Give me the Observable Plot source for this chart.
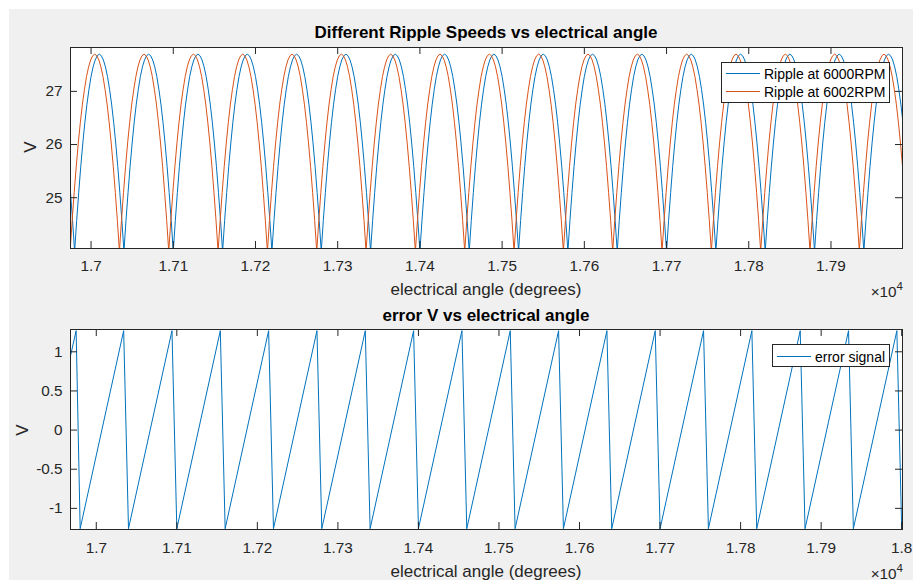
<!DOCTYPE html>
<html><head><meta charset="utf-8">
<script src="https://cdn.jsdelivr.net/npm/d3@7"></script>
<script src="https://cdn.jsdelivr.net/npm/@observablehq/plot@0.6"></script>
<style>
body{margin:0;background:#fff;font-family:"Liberation Sans",Arial,Helvetica,sans-serif;}
#fig{position:relative;width:913px;height:580px;overflow:hidden;background:#fff}
#bg{position:absolute;left:9px;top:9px;width:904px;height:571px;background:#f0f0f0}
.c{position:absolute;line-height:1;white-space:nowrap;transform:translate(-50%,-50%)}
.title{font-weight:bold;font-size:17px;color:#000}
.xlabel{font-size:17px;color:#262626}
.ylabel{font-size:17px;color:#262626;transform:translate(-50%,-50%) rotate(-90deg)}
.exp{position:absolute;right:10px;font-size:15.3px;color:#262626;line-height:1;white-space:nowrap}
.exp span{font-size:11.5px;position:relative;top:-6.6px}
.legend{position:absolute;background:#fff;border:1px solid #262626;box-sizing:border-box;font-size:14px;color:#000}
.legend .sw{position:absolute;left:4px;width:34px;height:1px}
.legend .lt{position:absolute;left:42px;line-height:1;transform:translateY(-50%);white-space:nowrap}
</style>
</head><body>
<div id="fig"><div id="bg"></div></div>
<script>
// ---------- data ----------
const seriesNames = ["Ripple at 6000RPM", "Ripple at 6002RPM"];
const errorName = "error signal";

// x ticks (electrical angle, degrees) and their labels (x 10^4)
const xTicksTop = [17000, 17100, 17200, 17300, 17400, 17500, 17600, 17700, 17800, 17900];
const xTickLabelsTop = ["1.7", "1.71", "1.72", "1.73", "1.74", "1.75", "1.76", "1.77", "1.78", "1.79"];
const xTicksBottom = [17000, 17100, 17200, 17300, 17400, 17500, 17600, 17700, 17800, 17900, 18000];
const xTickLabelsBottom = ["1.7", "1.71", "1.72", "1.73", "1.74", "1.75", "1.76", "1.77", "1.78", "1.79", "1.8"];
const yTicksTop = [25, 26, 27];
const yTickLabelsTop = ["25", "26", "27"];
const yTicksBottom = [-1, -0.5, 0, 0.5, 1];
const yTickLabelsBottom = ["-1", "-0.5", "0", "0.5", "1"];

// axis extents
const xDomainTop = [16975, 17987];
const yDomainTop = [24.045, 27.825];
const xDomainBottom = [16968, 18001];
const yDomainBottom = [-1.27, 1.285];

// one ripple hump: offset from the hump's peak (deg) and voltage
const rippleHalfOffset = [0, 2.5, 5, 7.5, 10, 12.5, 15, 17.5, 20, 22.5, 25, 27.5, 30];
const rippleHalfV = [27.70, 27.67, 27.59, 27.46, 27.28, 27.04, 26.76, 26.42, 26.03, 25.59, 25.10, 24.57, 23.99];

// peak positions of each hump (deg)
const peaks6000 = [16950, 17010, 17070, 17130, 17190, 17250, 17310, 17370, 17430, 17490, 17550, 17610, 17670, 17730, 17790, 17850, 17910, 17970];
const peaks6002 = [16944.5, 17004.5, 17064.5, 17124.5, 17184.5, 17244.5, 17304.5, 17364.5, 17424.5, 17484.5, 17544.5, 17604.5, 17664.5, 17724.5, 17784.5, 17844.5, 17904.5, 17964.5];

// error signal vertices (deg, V)
const errorAngle = [16920, 16975, 16980, 17034, 17040, 17094, 17100, 17154, 17160, 17214, 17220, 17274, 17280, 17334, 17340, 17394, 17400, 17454, 17460, 17514, 17520, 17574, 17580, 17634, 17640, 17694, 17700, 17754, 17760, 17814, 17820, 17874, 17880, 17934, 17940, 17994, 18000, 18054];
const errorV = [-1.26, 1.27, -1.26, 1.27, -1.26, 1.27, -1.26, 1.27, -1.26, 1.27, -1.26, 1.27, -1.26, 1.27, -1.26, 1.27, -1.26, 1.27, -1.26, 1.27, -1.26, 1.27, -1.26, 1.27, -1.26, 1.27, -1.26, 1.27, -1.26, 1.27, -1.26, 1.27, -1.26, 1.27, -1.26, 1.27, -1.26, 1.27];

const colors = ["#0072BD", "#D95319"];
// ---------------------------------------------------

function buildRipple(peaks) {
  const out = [];
  for (const p of peaks) {
    for (let i = rippleHalfOffset.length - 1; i > 0; i--) out.push({x: p - rippleHalfOffset[i], y: rippleHalfV[i]});
    for (let i = 0; i < rippleHalfOffset.length; i++) out.push({x: p + rippleHalfOffset[i], y: rippleHalfV[i]});
  }
  return out;
}
const ripple6000 = buildRipple(peaks6000);
const ripple6002 = buildRipple(peaks6002);
const errorData = errorAngle.map((a, i) => ({x: a, y: errorV[i]}));

const FONT = '"Liberation Sans", Arial, Helvetica, sans-serif';
const AX = "#262626";
const W = 913, ML = 70, MR = 11, TICK = 7;

function panel({height, marginTop, marginBottom, xDomain, yDomain, xTicks, xLabels, yTicks, yLabels, lines, padX}) {
  const fh = height - marginTop - marginBottom, fw = W - ML - MR;
  const xMap = new Map(xTicks.map((t, i) => [t, xLabels[i]]));
  const yMap = new Map(yTicks.map((t, i) => [t, yLabels[i]]));
  return Plot.plot({
    width: W, height, marginLeft: ML, marginRight: MR, marginTop, marginBottom,
    style: {background: "transparent", fontFamily: FONT, fontSize: "15.3px", color: AX},
    x: {domain: xDomain}, y: {domain: yDomain},
    marks: [
      Plot.frame({fill: "white"}),
      ...lines.map(([data, color]) => Plot.line(data, {x: "x", y: "y", stroke: color, strokeWidth: 1, clip: true})),
      Plot.ruleX(xTicks, {stroke: AX, insetTop: fh - TICK}),
      Plot.ruleX(xTicks, {stroke: AX, insetBottom: fh - TICK}),
      Plot.ruleY(yTicks, {stroke: AX, insetRight: fw - TICK}),
      Plot.ruleY(yTicks, {stroke: AX, insetLeft: fw - TICK}),
      Plot.axisX({ticks: xTicks, tickSize: 0, tickPadding: padX, tickFormat: d => xMap.get(d), label: null, fontSize: 15.3, fill: AX}),
      Plot.axisY({ticks: yTicks, tickSize: 0, tickPadding: 8, tickFormat: d => yMap.get(d), label: null, fontSize: 15.3, fill: AX}),
      Plot.frame({stroke: AX})
    ]
  });
}

const fig = document.getElementById("fig");

const topChart = panel({height: 300, marginTop: 47, marginBottom: 52, xDomain: xDomainTop, yDomain: yDomainTop,
  xTicks: xTicksTop, xLabels: xTickLabelsTop, yTicks: yTicksTop, yLabels: yTickLabelsTop,
  lines: [[ripple6000, colors[0]], [ripple6002, colors[1]]], padX: 12});
topChart.style.position = "absolute"; topChart.style.left = "0px"; topChart.style.top = "0px";
fig.appendChild(topChart);

const bottomChart = panel({height: 280, marginTop: 29, marginBottom: 51, xDomain: xDomainBottom, yDomain: yDomainBottom,
  xTicks: xTicksBottom, xLabels: xTickLabelsBottom, yTicks: yTicksBottom, yLabels: yTickLabelsBottom,
  lines: [[errorData, colors[0]]], padX: 13});
bottomChart.style.position = "absolute"; bottomChart.style.left = "0px"; bottomChart.style.top = "300px";
fig.appendChild(bottomChart);

function addText(cls, text, x, y) {
  const d = document.createElement("div");
  d.className = "c " + cls; d.textContent = text;
  d.style.left = x + "px"; d.style.top = y + "px";
  fig.appendChild(d);
}
addText("title", "Different Ripple Speeds vs electrical angle", 486, 32);
addText("xlabel", "electrical angle (degrees)", 486, 289);
addText("ylabel", "V", 30, 147);
addText("title", "error V vs electrical angle", 486, 315);
addText("xlabel", "electrical angle (degrees)", 486, 571);
addText("ylabel", "V", 22, 430);

function addExp(top) {
  const d = document.createElement("div");
  d.className = "exp"; d.style.top = top + "px";
  d.innerHTML = "×10<span>4</span>";
  fig.appendChild(d);
}
addExp(284); addExp(565.5);

function addLegend(left, top, width, height, items) {
  const box = document.createElement("div");
  box.className = "legend";
  Object.assign(box.style, {left: left + "px", top: top + "px", width: width + "px", height: height + "px"});
  for (const [name, color, y] of items) {
    const sw = document.createElement("div"); sw.className = "sw";
    sw.style.top = y + "px"; sw.style.backgroundColor = color; box.appendChild(sw);
    const t = document.createElement("div"); t.className = "lt";
    t.style.top = (y + 0.5) + "px"; t.textContent = name; box.appendChild(t);
  }
  fig.appendChild(box);
}
addLegend(721, 62, 169, 41, [[seriesNames[0], colors[0], 10], [seriesNames[1], colors[1], 28]]);
addLegend(772, 344, 118, 23, [[errorName, colors[0], 11]]);
</script>
</body></html>
